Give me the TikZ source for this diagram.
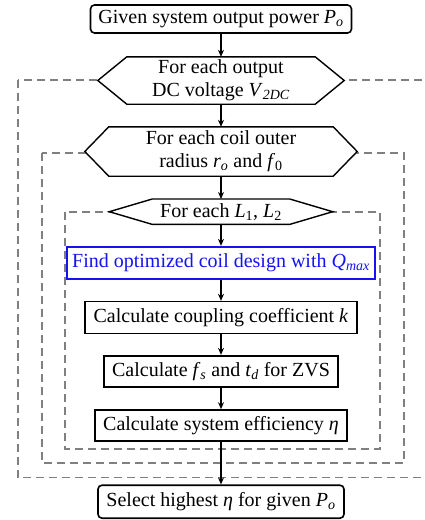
\documentclass[tikz,border=0pt]{standalone}
\usepackage{fontspec}
\setmainfont{Liberation Serif}
\usetikzlibrary{arrows.meta}
\newcommand\subt[1]{\textsubscript{\textit{#1}}}
\newcommand\subr[1]{\textsubscript{#1}}
\begin{document}
\begin{tikzpicture}[x=1pt,y=-1pt,
  every node/.style={font=\fontsize{20}{23}\selectfont, inner sep=0pt, align=center},
  stepbox/.style={draw=black, line width=1.6pt, fill=white},
  roundbox/.style={stepbox, rounded corners=4pt},
  bluebox/.style={draw={rgb,255:red,20;green,20;blue,240}, line width=1.8pt, fill=white, text={rgb,255:red,20;green,20;blue,240}},
  hexnode/.style={draw=none},
  hexline/.style={draw=black, line width=1.4pt, fill=white},
  loopbox/.style={draw={rgb,255:red,128;green,128;blue,128}, line width=1.2pt, dash pattern=on 8pt off 5pt},
  flow/.style={line width=1.2pt, -{Stealth[length=7pt,width=6pt]}}]
\useasboundingbox (0,0) rectangle (424,520);
\clip (0,0) rectangle (424,520);
% loop boxes
\draw[loopbox] (18,80) rectangle (440,477.7);
\draw[loopbox] (42,153) rectangle (404,463);
\draw[loopbox] (65,212) rectangle (380,449);
% nodes
\node[roundbox, minimum width=261pt, minimum height=28pt] (given) at (221,19) {Given system output power \textit{P}\subt{o}};
\node[hexnode, minimum width=246pt, minimum height=47pt] (h1) at (221,80.5) {};
\node[hexnode, minimum width=272pt, minimum height=49pt] (h2) at (221,151.5) {};
\node[hexnode, minimum width=223pt, minimum height=25pt] (h3) at (221,211.7) {};
\draw[hexline] (h1.west) -- ([xshift=29pt]h1.north west) -- ([xshift=-29pt]h1.north east) -- (h1.east) -- ([xshift=-29pt]h1.south east) -- ([xshift=29pt]h1.south west) -- cycle;
\draw[hexline] (h2.west) -- ([xshift=24pt]h2.north west) -- ([xshift=-24pt]h2.north east) -- (h2.east) -- ([xshift=-24pt]h2.south east) -- ([xshift=24pt]h2.south west) -- cycle;
\draw[hexline] (h3.west) -- ([xshift=43pt]h3.north west) -- ([xshift=-43pt]h3.north east) -- (h3.east) -- ([xshift=-43pt]h3.south east) -- ([xshift=43pt]h3.south west) -- cycle;
\node (t1) at (h1) {For each output\\DC voltage \textit{V}\subt{2DC}};
\node (t2) at (h2) {For each coil outer\\radius \textit{r}\subt{o} and \textit{f}\subr{0}};
\node (t3) at (h3) {For each \textit{L}\subr{1}, \textit{L}\subr{2}};
\node[bluebox, minimum width=308pt, minimum height=32pt] (opt) at (221,262.8) {Find optimized coil design with \textit{Q}\subt{max}};
\node[stepbox, minimum width=272pt, minimum height=31.7pt] (cpl) at (221,317.5) {Calculate coupling coefficient \textit{k}};
\node[stepbox, minimum width=234pt, minimum height=31pt] (zvs) at (221,371.2) {Calculate \textit{f}\subt{s} and \textit{t}\subt{d} for ZVS};
\node[stepbox, minimum width=252pt, minimum height=31pt] (eff) at (221,425.5) {Calculate system efficiency \textit{η}};
\node[roundbox, minimum width=246pt, minimum height=33pt] (sel) at (221,501.7) {Select highest \textit{η} for given \textit{P}\subt{o}};
% connectors
\draw[flow] (given) -- (h1);
\draw[flow] (h1) -- (h2);
\draw[flow] (h2) -- (h3);
\draw[flow] (h3) -- (opt);
\draw[flow] (opt) -- (cpl);
\draw[flow] (cpl) -- (zvs);
\draw[flow] (zvs) -- (eff);
\draw[flow] (eff) -- (sel);
\end{tikzpicture}
\end{document}
